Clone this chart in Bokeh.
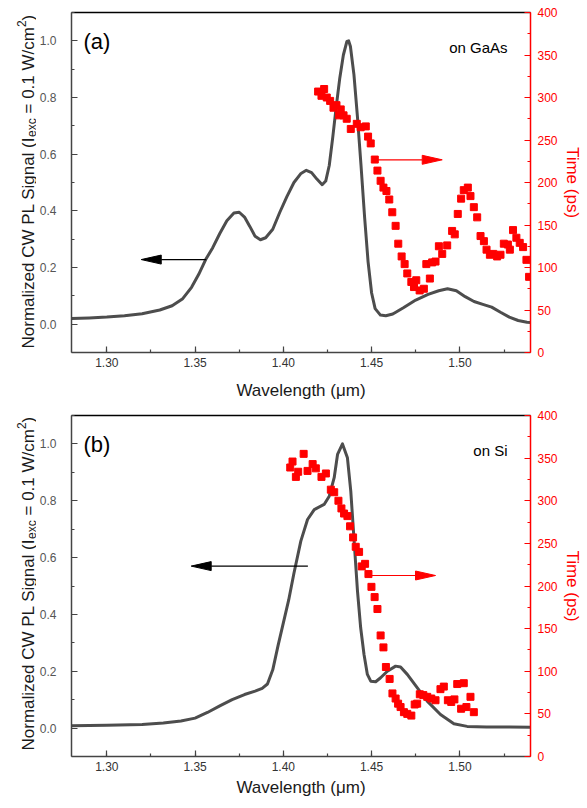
import numpy as np
from bokeh.plotting import figure
from bokeh.models import (Range1d, LinearAxis, FixedTicker, Label,
                          SingleIntervalTicker, PrintfTickFormatter)
from bokeh.layouts import column, row
from bokeh.embed import file_html
from bokeh.resources import INLINE

# ---------------- data: panel (a) on GaAs ----------------
wl_a = [1.280, 1.290, 1.300, 1.310, 1.320, 1.330, 1.337, 1.343, 1.348, 1.352,
        1.356, 1.360, 1.364, 1.368, 1.372, 1.375, 1.378, 1.381, 1.384, 1.387,
        1.390, 1.394, 1.398, 1.402, 1.406, 1.410, 1.413, 1.416, 1.419, 1.422,
        1.424, 1.426, 1.428, 1.430, 1.432, 1.434, 1.436, 1.437, 1.438, 1.440,
        1.442, 1.444, 1.446, 1.448, 1.450, 1.452, 1.455, 1.458, 1.462, 1.468,
        1.475, 1.482, 1.488, 1.493, 1.498, 1.503, 1.508, 1.513, 1.518, 1.523,
        1.528, 1.533, 1.538, 1.540]
pl_a = [0.020, 0.022, 0.025, 0.030, 0.037, 0.050, 0.065, 0.090, 0.130, 0.175,
        0.228, 0.270, 0.320, 0.365, 0.392, 0.395, 0.378, 0.345, 0.310, 0.298,
        0.305, 0.335, 0.395, 0.450, 0.500, 0.532, 0.543, 0.535, 0.512, 0.492,
        0.505, 0.560, 0.660, 0.770, 0.870, 0.950, 0.998, 1.000, 0.980, 0.880,
        0.730, 0.560, 0.380, 0.220, 0.110, 0.055, 0.032, 0.030, 0.036, 0.058,
        0.085, 0.105, 0.118, 0.125, 0.118, 0.097, 0.080, 0.070, 0.060, 0.042,
        0.025, 0.013, 0.007, 0.006]
tau_wl_a = [1.4197, 1.4231, 1.4216, 1.4246, 1.4265, 1.4284, 1.4301, 1.4325, 1.4316, 1.4341,
            1.4359, 1.4382, 1.4416, 1.4438, 1.4467, 1.4480, 1.4495, 1.4518, 1.4533, 1.4551,
            1.4567, 1.4584, 1.4600, 1.4617, 1.4636, 1.4651, 1.4670, 1.4687, 1.4702, 1.4725,
            1.4753, 1.4740, 1.4772, 1.4796, 1.4810, 1.4830, 1.4843, 1.4862, 1.4881, 1.4900,
            1.4928, 1.4956, 1.4971, 1.4988, 1.5007, 1.5022, 1.5045, 1.5060, 1.5079, 1.5098,
            1.5117, 1.5136, 1.5151, 1.5170, 1.5189, 1.5211, 1.5230, 1.5249, 1.5272, 1.5283,
            1.5301, 1.5320, 1.5339, 1.5358, 1.5377, 1.5392]
tau_a = [307, 310, 302, 300, 296, 288, 291, 286, 279, 279,
         275, 263, 269, 265, 266, 254, 246, 227, 214, 202,
         194, 190, 180, 165, 149, 128, 113, 104, 93, 83,
         85, 77, 73, 75, 104, 87, 106, 107, 125, 116,
         126, 143, 139, 163, 181, 191, 194, 184, 171, 159,
         137, 131, 121, 115, 116, 113, 115, 128, 127, 121,
         144, 135, 129, 124, 109, 89]

# ---------------- data: panel (b) on Si ----------------
wl_b = [1.280, 1.300, 1.320, 1.332, 1.342, 1.350, 1.357, 1.364, 1.371, 1.378,
        1.384, 1.388, 1.391, 1.394, 1.397, 1.400, 1.403, 1.406, 1.4099, 1.4137,
        1.4175, 1.4231, 1.4260, 1.4288, 1.4307, 1.4335, 1.4363, 1.4382, 1.4401, 1.4420,
        1.4438, 1.4457, 1.4476, 1.4495, 1.4523, 1.4551, 1.4589, 1.4636, 1.4664, 1.4702,
        1.4758, 1.4815, 1.4890, 1.4966, 1.5041, 1.515, 1.528, 1.540]
pl_b = [0.008, 0.010, 0.013, 0.018, 0.025, 0.035, 0.055, 0.078, 0.100, 0.118,
        0.130, 0.140, 0.155, 0.205, 0.290, 0.370, 0.450, 0.545, 0.658, 0.734,
        0.769, 0.787, 0.816, 0.881, 0.963, 1.000, 0.951, 0.834, 0.658, 0.482,
        0.353, 0.259, 0.189, 0.165, 0.163, 0.177, 0.200, 0.218, 0.215, 0.189,
        0.142, 0.095, 0.048, 0.015, 0.006, 0.004, 0.004, 0.003]
tau_wl_b = [1.4039, 1.4052, 1.4071, 1.4084, 1.4115, 1.4137, 1.4166, 1.4184, 1.4216, 1.4241,
            1.4269, 1.4288, 1.4312, 1.4329, 1.4344, 1.4363, 1.4378, 1.4395, 1.4410, 1.4429,
            1.4444, 1.4463, 1.4482, 1.4499, 1.4517, 1.4533, 1.4551, 1.4567, 1.4581, 1.4602,
            1.4618, 1.4636, 1.4650, 1.4664, 1.4683, 1.4702, 1.4725, 1.4744, 1.4758, 1.4773,
            1.4793, 1.4815, 1.4838, 1.4862, 1.4890, 1.4909, 1.4932, 1.4951, 1.4969, 1.4985,
            1.5022, 1.5007, 1.5037, 1.5060, 1.5079]
tau_b = [339, 346, 328, 334, 355, 335, 343, 338, 328, 332,
         313, 310, 300, 291, 285, 282, 270, 257, 246, 240,
         223, 226, 214, 199, 187, 173, 142, 128, 105, 91,
         74, 68, 62, 58, 52, 50, 48, 61, 62, 73,
         72, 70, 68, 66, 79, 82, 66, 64, 67, 85,
         86, 56, 58, 70, 52]

x_ticks_step = 0.05
pl_ticks_step = 0.2
t_ticks_step = 50
X_RANGE = (1.28, 1.54)
PL_RANGE = (-0.1, 1.1)
T_RANGE = (0, 400)

FONT = "Liberation Sans"
FRAME_W = 459
LAB_W = 36
RED = "#ff0000"
CURVE = "#4d4d4d"
AXIS_GRAY = "#444444"

AW = {'N': 722, 'o': 556, 'r': 333, 'm': 833, 'a': 556, 'l': 222, 'i': 222, 'z': 500,
      'e': 556, 'd': 556, ' ': 278, 'C': 722, 'W': 944, 'P': 667, 'L': 556, 'S': 667,
      'g': 556, 'n': 556, '(': 333, 'I': 278, 'x': 500, 'c': 500, '=': 584, '0': 556,
      '.': 278, '1': 556, '/': 278, '2': 556, ')': 333}


def tw(s, size):
    return sum(AW[c] for c in s) / 1000.0 * size


def ylabel_fig(height, y0):
    # narrow companion figure; its frame is aligned with the main plot's frame
    f = figure(width=LAB_W, height=height, x_axis_type=None, y_axis_type=None,
               output_backend="svg", toolbar_location=None, min_border=0,
               outline_line_color=None, x_range=Range1d(0, 1), y_range=Range1d(0, 1))
    f.xgrid.visible = False
    f.ygrid.visible = False
    big, small = 17, 12
    xb = 28
    pieces = [("Normalized CW PL Signal (I", big, xb),
              ("exc", small, xb + 3),
              (" = 0.1 W/cm", big, xb),
              ("2", small, xb - 7),
              (")", big, xb)]
    y = y0
    for txt, size, x in pieces:
        lead = 0.0
        shown = txt
        if txt.startswith(" "):
            lead = tw(" ", size)
            shown = txt[1:]
        f.add_layout(Label(x=x, y=y + lead, x_units="screen", y_units="screen",
                           text=shown, angle=np.pi / 2, text_font=FONT,
                           text_font_size=f"{size}px", text_color="#1a1a1a",
                           text_align="left", text_baseline="alphabetic",
                           level="overlay"))
        y += tw(txt, size)
    return f


def add_arrow(p, x0, x1, y, color, fh, yname="default", yspan=1.2):
    dxpp = (X_RANGE[1] - X_RANGE[0]) / FRAME_W
    dypp = yspan / fh
    s = 1 if x1 > x0 else -1
    L, H = 20, 4.5
    xb = x1 - s * L * dxpp
    p.segment(x0=[x0], y0=[y], x1=[xb], y1=[y], line_color=color, line_width=1.2,
              y_range_name=yname)
    p.patch([x1, xb, xb], [y, y + H * dypp, y - H * dypp], fill_color=color,
            line_color=color, line_width=1, y_range_name=yname)


def style_ticks(ax, color):
    ax.axis_line_color = color
    ax.axis_line_width = 1.5
    ax.major_tick_line_color = color
    ax.minor_tick_line_color = color
    ax.major_tick_line_width = 1.2
    ax.minor_tick_line_width = 1.2
    ax.major_tick_in = 6
    ax.major_tick_out = 0
    ax.minor_tick_in = 3
    ax.minor_tick_out = 0


def build(fh, bt, bb, xlab_standoff, wl, pl, twl, tau, tag, sample, larrow, rarrow):
    p = figure(frame_width=FRAME_W, frame_height=fh,
               x_range=Range1d(*X_RANGE), y_range=Range1d(*PL_RANGE),
               output_backend="svg", toolbar_location=None,
               min_border_left=70 - LAB_W, min_border_right=50,
               min_border_top=bt, min_border_bottom=bb,
               background_fill_color="white", border_fill_color="white",
               outline_line_color=None)
    p.extra_y_ranges = {"t": Range1d(*T_RANGE)}
    p.xgrid.visible = False
    p.ygrid.visible = False

    xa = p.xaxis[0]
    xa.ticker = SingleIntervalTicker(interval=x_ticks_step, num_minor_ticks=2)
    xa.formatter = PrintfTickFormatter(format="%.2f")
    xa.axis_label = "Wavelength (μm)"
    xa.axis_label_text_font = FONT
    xa.axis_label_text_font_size = "17px"
    xa.axis_label_text_font_style = "normal"
    xa.axis_label_text_color = "#1a1a1a"
    xa.axis_label_standoff = xlab_standoff
    xa.major_label_text_font = FONT
    xa.major_label_text_font_size = "12px"
    xa.major_label_text_color = "#333333"
    xa.major_label_standoff = 5
    style_ticks(xa, AXIS_GRAY)

    ya = p.yaxis[0]
    ya.ticker = SingleIntervalTicker(interval=pl_ticks_step, num_minor_ticks=2)
    ya.formatter = PrintfTickFormatter(format="%.1f")
    ya.major_label_text_font = FONT
    ya.major_label_text_font_size = "12px"
    ya.major_label_text_color = "#555555"
    ya.major_label_standoff = 15
    style_ticks(ya, AXIS_GRAY)

    ra = LinearAxis(y_range_name="t",
                    ticker=SingleIntervalTicker(interval=t_ticks_step, num_minor_ticks=2),
                    axis_label="Time (ps)")
    ra.axis_label_text_font = FONT
    ra.axis_label_text_font_size = "17px"
    ra.axis_label_text_font_style = "normal"
    ra.axis_label_text_color = RED
    ra.axis_label_standoff = 2
    ra.major_label_text_font = FONT
    ra.major_label_text_font_size = "12px"
    ra.major_label_text_color = RED
    ra.major_label_standoff = 7
    style_ticks(ra, RED)
    p.add_layout(ra, "right")

    top = LinearAxis(ticker=FixedTicker(ticks=[]), major_label_text_font_size="0px",
                     major_tick_in=0, major_tick_out=0, minor_tick_in=0, minor_tick_out=0,
                     major_label_standoff=0, axis_line_color="black", axis_line_width=1.5)
    p.add_layout(top, "above")

    p.line(wl, pl, line_color=CURVE, line_width=3, line_join="round")
    p.scatter(twl, tau, marker="square", size=7, fill_color=RED, line_color=RED,
              y_range_name="t")

    add_arrow(p, larrow[0], larrow[1], larrow[2], "black", fh)
    add_arrow(p, rarrow[0], rarrow[1], rarrow[2], RED, fh, yname="t", yspan=400)

    p.add_layout(Label(x=12, y=fh - 29, x_units="screen", y_units="screen", text=tag,
                       text_font=FONT, text_font_size="22px", text_color="black",
                       text_baseline="middle", text_align="left", level="overlay"))
    p.add_layout(Label(x=436, y=fh - 35, x_units="screen", y_units="screen", text=sample,
                       text_font=FONT, text_font_size="15px", text_color="black",
                       text_baseline="middle", text_align="right", level="overlay"))
    return p


H1 = 12 + 340 + 51
H2 = 12 + 341 + 50
p1 = build(340, 12, 51, 11, wl_a, pl_a, tau_wl_a, tau_a, "(a)", "on GaAs",
           (1.3563, 1.3195, 0.228), (1.4536, 1.4900, 226.7))
p2 = build(341, 12, 50, 4, wl_b, pl_b, tau_wl_b, tau_b, "(b)", "on Si",
           (1.4139, 1.3478, 0.570), (1.4485, 1.4862, 212.3))
l1 = ylabel_fig(H1, 4)
l2 = ylabel_fig(H2, 6)

layout = column(row(l1, p1), row(l2, p2))
open("out.html", "w").write(file_html(layout, INLINE, title="PL and decay time"))
